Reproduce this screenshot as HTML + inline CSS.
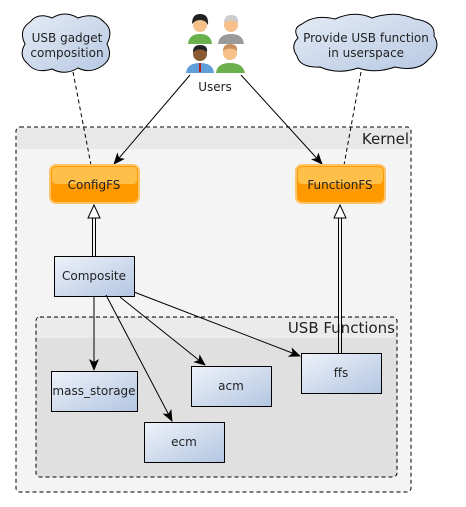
<!DOCTYPE html>
<html><head><meta charset="utf-8"><style>
html,body{margin:0;padding:0;background:#fff;}
svg{display:block;font-family:"DejaVu Sans","Liberation Sans",sans-serif;}
</style></head><body>
<svg width="466" height="507" viewBox="0 0 466 507" xmlns="http://www.w3.org/2000/svg">
<defs>
<linearGradient id="bl" x1="0" y1="0" x2="1" y2="1"><stop offset="0" stop-color="#eef2f9"/><stop offset="1" stop-color="#b3c6e2"/></linearGradient>
<linearGradient id="cl" x1="0" y1="0" x2="1" y2="1"><stop offset="0" stop-color="#e4ebf5"/><stop offset="1" stop-color="#b7c9e3"/></linearGradient>
<marker id="ar" markerWidth="12" markerHeight="10" refX="11" refY="5" orient="auto" markerUnits="userSpaceOnUse"><path d="M0,0 L12,5 L0,10 L3,5 z" fill="#000"/></marker>
</defs>
<rect x="16" y="127" width="395" height="365" rx="4" fill="#f4f4f4" stroke="#000" stroke-dasharray="4,3"/>
<rect x="17" y="128" width="393" height="21" fill="#e8e8e8"/>
<text x="409" y="144" font-size="15" text-anchor="end" fill="#222">Kernel</text>
<rect x="36" y="317" width="361" height="160" rx="4" fill="#e0e0e0" stroke="#000" stroke-dasharray="4,3"/>
<rect x="37" y="318" width="359" height="20" fill="#ebebeb"/>
<text x="395" y="333" font-size="15" text-anchor="end" fill="#222">USB Functions</text>
<path d="M30,22 Q38,12 52,18 Q65,10 78,18 Q95,12 104,22 Q114,30 107,44 Q114,58 102,66 Q90,74 78,68 Q65,76 52,69 Q36,74 28,64 Q18,56 25,44 Q18,30 30,22 Z" fill="url(#cl)" stroke="#000"/>
<text x="67" y="42" font-size="12" text-anchor="middle" fill="#222">USB gadget</text>
<text x="67" y="57" font-size="12" text-anchor="middle" fill="#222">composition</text>
<path d="M302,24 Q315,14 335,19 Q355,10 372,18 Q395,10 415,19 Q436,22 434,36 Q442,48 428,60 Q418,72 395,67 Q375,74 358,68 Q338,75 320,67 Q300,68 297,56 Q290,46 298,38 Q292,28 302,24 Z" fill="url(#cl)" stroke="#000"/>
<text x="366" y="42" font-size="12" text-anchor="middle" fill="#222">Provide USB function</text>
<text x="366" y="57" font-size="12" text-anchor="middle" fill="#222">in userspace</text>
<line x1="73" y1="72" x2="91" y2="165" stroke="#000" stroke-dasharray="4,3"/>
<line x1="361" y1="72" x2="344" y2="165" stroke="#000" stroke-dasharray="4,3"/>
<g>
<circle cx="200" cy="25" r="7" fill="#f5c08a"/><path d="M192,24 Q192,14 200,14 Q209,14 208,25 L206,22 Q200,18 194,22 Z" fill="#222"/>
<path d="M188,44 Q189,34 200,34 Q211,34 212,44 Z" fill="#6ab04c"/>
<circle cx="231" cy="25" r="7" fill="#f5c08a"/><path d="M224,23 Q224,15 231,15 Q239,15 238,23 Q231,18 224,23Z" fill="#ccc"/>
<path d="M218,44 Q219,34 231,34 Q243,34 244,44 Z" fill="#9a9a9a"/>
<circle cx="200" cy="54" r="7" fill="#8a5a30"/><path d="M193,52 Q193,45 200,45 Q208,45 207,52 Q200,47 193,52Z" fill="#222"/>
<path d="M186,73 Q187,63 200,63 Q213,63 214,73 Z" fill="#5fa0dc"/><rect x="199" y="63" width="2" height="9" fill="#c02020"/>
<circle cx="230" cy="53" r="7" fill="#f5c08a"/><path d="M223,51 Q223,44 230,44 Q238,44 237,51 Q230,46 223,51Z" fill="#c89060"/>
<path d="M216,73 Q217,63 230,63 Q243,63 245,73 Z" fill="#6ab04c"/>
</g>
<text x="215" y="91" font-size="12" text-anchor="middle" fill="#222">Users</text>
<line x1="190" y1="75" x2="114" y2="164" stroke="#000" marker-end="url(#ar)"/>
<line x1="241" y1="75" x2="322" y2="164" stroke="#000" marker-end="url(#ar)"/>
<g>
<rect x="50" y="165" width="89" height="38" rx="6" fill="#ff9900" stroke="#ffc36a" stroke-width="2"/>
<rect x="52" y="167" width="85" height="17" rx="4" fill="#ffc04a"/>
<text x="94" y="189" font-size="12" text-anchor="middle" fill="#222">ConfigFS</text>
<rect x="296" y="165" width="89" height="38" rx="6" fill="#ff9900" stroke="#ffc36a" stroke-width="2"/>
<rect x="298" y="167" width="85" height="17" rx="4" fill="#ffc04a"/>
<text x="340" y="189" font-size="12" text-anchor="middle" fill="#222">FunctionFS</text>
</g>
<g stroke="#000" fill="none">
<line x1="92.5" y1="216" x2="92.5" y2="256"/><line x1="95.5" y1="216" x2="95.5" y2="256"/>
<path d="M88,218 L94,205 L100,218 Z" fill="#fff"/>
<line x1="338.5" y1="216" x2="338.5" y2="353"/><line x1="341.5" y1="216" x2="341.5" y2="353"/>
<path d="M334,218 L340,205 L346,218 Z" fill="#fff"/>
</g>
<g stroke="#000" fill="url(#bl)">
<rect x="54.5" y="256.5" width="80" height="40"/>
<rect x="51.5" y="371.5" width="86" height="40"/>
<rect x="191.5" y="366.5" width="80" height="40"/>
<rect x="301.5" y="353.5" width="80" height="40"/>
<rect x="144.5" y="422.5" width="80" height="40"/>
</g>
<g font-size="12" text-anchor="middle" fill="#222">
<text x="94" y="280">Composite</text>
<text x="94" y="395">mass_storage</text>
<text x="231" y="390">acm</text>
<text x="341" y="377">ffs</text>
<text x="184" y="446">ecm</text>
</g>
<g stroke="#000" marker-end="url(#ar)">
<line x1="94" y1="297" x2="94" y2="370"/>
<line x1="106" y1="295" x2="172" y2="421"/>
<line x1="120" y1="297" x2="205" y2="365"/>
<line x1="134" y1="292" x2="300" y2="356"/>
</g>
</svg>
</body></html>
